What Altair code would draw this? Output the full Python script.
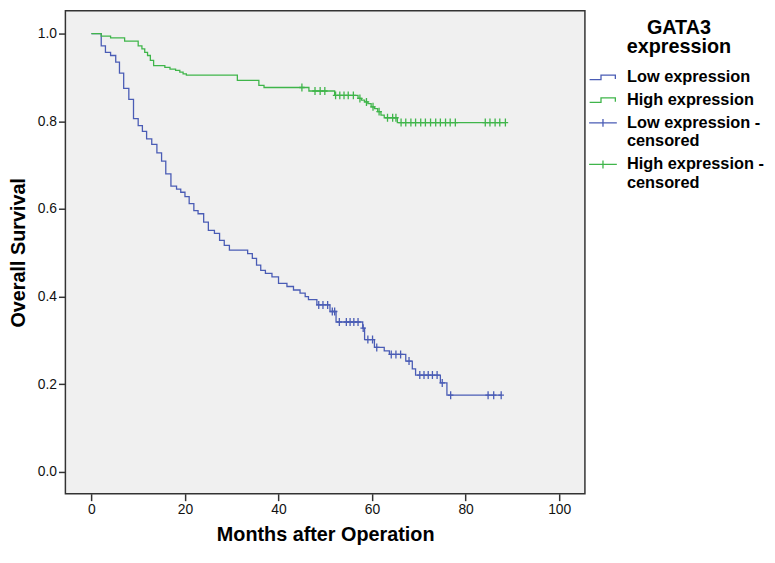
import altair as alt
import pandas as pd

# ---- data (Kaplan-Meier steps) ----
low_t = [0, 2.1, 3.0, 4.1, 5.2, 6.0, 6.9, 8.0, 9.0, 10.0, 10.9, 11.8, 12.9, 14.0, 15.0,
         15.9, 17.0, 18.2, 19.1, 20.0, 20.9, 21.9, 22.8, 24.0, 25.0, 26.3, 27.4, 28.4,
         29.5, 33.4, 34.4, 35.3, 36.2, 37.2, 38.6, 40.0, 41.8, 43.2, 44.6, 45.7, 46.4,
         48.2, 51.0, 52.3, 58.0, 58.4, 60.5, 62.6, 63.7, 67.2, 68.6, 69.3, 74.6, 76.0]
low_s = [1.0, 0.972, 0.957, 0.95, 0.935, 0.91, 0.875, 0.85, 0.806, 0.79, 0.777, 0.76, 0.747,
         0.728, 0.709, 0.68, 0.652, 0.645, 0.638, 0.628, 0.612, 0.596, 0.589, 0.57, 0.551,
         0.544, 0.528, 0.517, 0.506, 0.498, 0.487, 0.472, 0.46, 0.453, 0.445, 0.43, 0.423,
         0.415, 0.408, 0.40, 0.393, 0.381, 0.366, 0.342, 0.328, 0.302, 0.284, 0.276, 0.268,
         0.253, 0.235, 0.221, 0.203, 0.175]
low_end = 87.6
low_cens = [48.6, 49.5, 50.5, 51.5, 52.0, 53.0, 54.5, 55.3, 56.1, 57.0, 58.1, 59.1, 60.1,
            61.0, 64.1, 65.1, 66.1, 67.9, 70.2, 71.1, 72.0, 72.9, 73.9, 75.0, 76.8, 84.8,
            86.0, 87.6]

high_t = [0, 2.1, 4.1, 7.1, 10.0, 10.8, 11.4, 12.0, 12.6, 13.3, 15.7, 16.8, 18.0, 18.9,
          19.6, 20.3, 31.2, 35.8, 36.9, 46.5, 52.0, 57.0, 57.7, 58.4, 59.1, 59.8, 60.5,
          61.2, 61.9, 62.6, 65.4]
high_s = [1.0, 0.994, 0.99, 0.983, 0.972, 0.965, 0.957, 0.95, 0.939, 0.927, 0.923, 0.919,
          0.916, 0.912, 0.908, 0.905, 0.893, 0.882, 0.877, 0.869, 0.859, 0.852, 0.848, 0.844,
          0.84, 0.833, 0.829, 0.822, 0.814, 0.808, 0.797]
high_end = 88.5
high_cens = [45.0, 47.8, 48.9, 49.9, 52.2, 53.1, 54.0, 54.9, 56.0, 57.4, 58.8, 60.2, 61.5,
             63.3, 64.4, 65.1, 66.2, 67.2, 68.3, 69.3, 70.4, 71.4, 72.5, 73.6, 74.6, 75.7,
             76.7, 77.8, 84.2, 85.2, 86.3, 87.3, 88.5]

groups = ["Low expression", "High expression",
          "Low expression - censored", "High expression - censored"]
x_ticks = [0, 20, 40, 60, 80, 100]
y_ticks = [0.0, 0.2, 0.4, 0.6, 0.8, 1.0]

BLUE = "#4a5cb5"
GREEN = "#3fb54a"
FONT = "Liberation Sans"


def surv_at(ts, ss, t):
    s = ss[0]
    for ti, si in zip(ts, ss):
        if ti <= t:
            s = si
    return s


line_rows = []
cens_rows = []
for name, ts, ss, end, cens in [
    (groups[0], low_t, low_s, low_end, low_cens),
    (groups[1], high_t, high_s, high_end, high_cens),
]:
    for t, s in zip(ts, ss):
        line_rows.append({"month": t, "surv": s, "series": name})
    line_rows.append({"month": end, "surv": ss[-1], "series": name})
    for c in cens:
        cens_rows.append({"month": c, "surv": surv_at(ts, ss, c),
                          "series": name + " - censored"})

lines_df = pd.DataFrame(line_rows)
cens_df = pd.DataFrame(cens_rows)

color_scale = alt.Scale(domain=groups, range=[BLUE, GREEN, BLUE, GREEN])
# open step glyph, traced forward and back so that it encloses no area
step_path = "M-2.7,0.45H-0.4V-0.45H2.5V0.35V-0.45H-0.4V0.45H-2.7"
cross_path = "M-2.8,0H2.8M0,-0.8V0.8"
shape_scale = alt.Scale(domain=groups, range=[step_path, step_path, cross_path, cross_path])

x_enc = alt.X("month:Q",
              scale=alt.Scale(domain=[-5.56, 105.5], nice=False, zero=False),
              axis=alt.Axis(values=x_ticks, title="Months after Operation", grid=False,
                            domain=False, tickSize=7, tickWidth=1.5, tickColor="#333",
                            labelFontSize=14, labelFont=FONT, labelColor="#111",
                            labelPadding=2, titleFont=FONT, titleFontSize=20,
                            titleFontWeight="bold", titleColor="black", titlePadding=8))
y_enc = alt.Y("surv:Q",
              scale=alt.Scale(domain=[-0.0497, 1.0519], nice=False, zero=False),
              axis=alt.Axis(values=y_ticks, format=".1f", title="Overall Survival",
                            grid=False, domain=False, tickSize=7, tickWidth=1.5,
                            tickColor="#333", labelFontSize=14, labelFont=FONT,
                            labelColor="#111", labelPadding=2, titleFont=FONT,
                            titleFontSize=20, titleFontWeight="bold", titleColor="black",
                            titlePadding=9))

legend = alt.Legend(
    title=["GATA3", "expression"], orient="none", legendX=535, legendY=7,
    titleFont=FONT, titleFontSize=20, titleFontWeight="bold", titleColor="black",
    titleAlign="center", titleAnchor="middle", titleLineHeight=20, titlePadding=12,
    labelFont=FONT, labelFontSize=16.5, labelFontWeight="bold", labelColor="black",
    labelOffset=16, labelLimit=400, symbolSize=100, symbolStrokeWidth=1.3,
    symbolFillColor="transparent", rowPadding=6, padding=0,
    labelExpr="datum.label == 'Low expression - censored' ? ['Low expression -', 'censored'] : "
              "datum.label == 'High expression - censored' ? ['High expression -', 'censored'] : datum.label",
)

lines = alt.Chart(lines_df).mark_line(interpolate="step-after", strokeWidth=1.3).encode(
    x=x_enc, y=y_enc,
    color=alt.Color("series:N", scale=color_scale, legend=legend),
    shape=alt.Shape("series:N", scale=shape_scale, legend=legend),
    detail="series:N",
)

cens = alt.Chart(cens_df).mark_point(shape="M0,-1V1M-0.7,0H0.7", size=64, filled=False,
                                     strokeWidth=1.3, opacity=1).encode(
    x="month:Q", y="surv:Q",
    color=alt.Color("series:N", scale=color_scale, legend=legend),
)

chart = alt.layer(lines, cens).properties(
    width=525, height=488,
    autosize=alt.AutoSizeParams(type="none"),
    padding={"left": 58, "top": 0, "right": 184, "bottom": 52},
    background="white",
).configure_view(fill="#f0f0f0", stroke="#333", strokeWidth=1.5)

chart.save("out.html", embed_options={"renderer": "svg", "actions": False})
